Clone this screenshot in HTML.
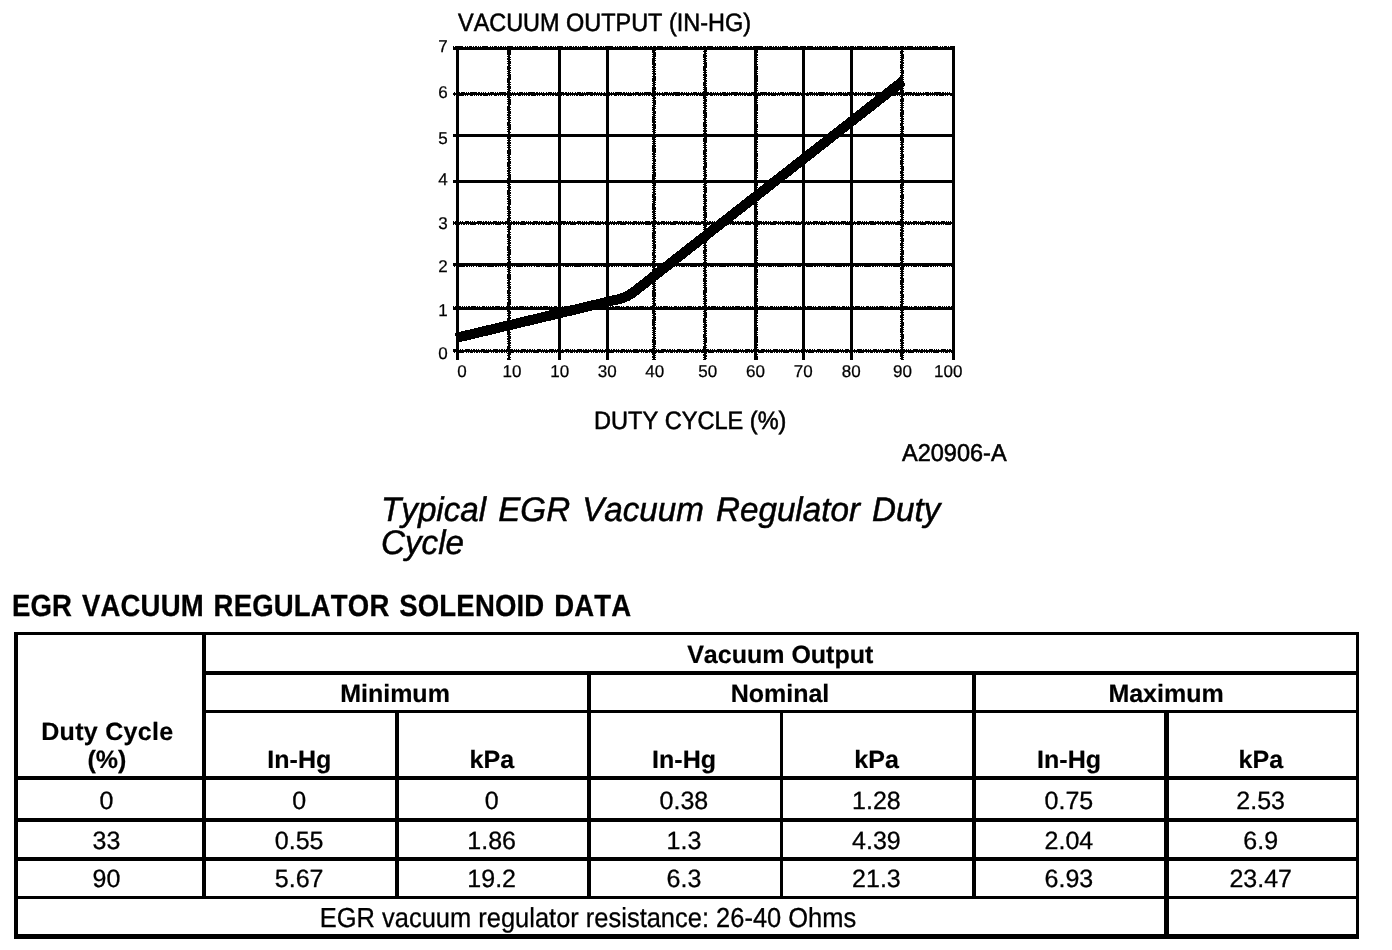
<!DOCTYPE html>
<html>
<head>
<meta charset="utf-8">
<title>EGR Vacuum Regulator Solenoid Data</title>
<style>
html,body{margin:0;padding:0;background:#fff;overflow:hidden;}
body{width:1392px;height:950px;position:relative;overflow:hidden;font-family:"Liberation Sans",sans-serif;color:#000;}
.t{position:absolute;white-space:nowrap;line-height:1;margin:0;padding:0;font-kerning:none;text-rendering:geometricPrecision;}
#pg{position:absolute;left:0;top:0;width:1392px;height:950px;overflow:hidden;will-change:transform;}
.c{text-align:center;}
.tick{font-size:17px;-webkit-text-stroke:0.25px #000;}
.lbl{font-size:23.5px;-webkit-text-stroke:0.55px #000;}
.cap{font-size:34px;font-style:italic;line-height:33px;-webkit-text-stroke:0.5px #000;}
.hd{font-size:30.5px;font-weight:bold;-webkit-text-stroke:0.3px #000;word-spacing:2.2px;letter-spacing:0.2px;}
.b{font-weight:bold;font-size:25px;-webkit-text-stroke:0.2px #000;}
.r{font-size:25px;-webkit-text-stroke:0.3px #000;}
.ln{position:absolute;background:#000;}
</style>
</head>
<body>
<div id="pg">
<svg style="position:absolute;left:0;top:0" width="1392" height="480" viewBox="0 0 1392 480" shape-rendering="crispEdges">
<rect x="456" y="46" width="3" height="314"/>
<rect x="508" y="46" width="2" height="314"/>
<line x1="507.5" y1="46" x2="507.5" y2="360" stroke="#000" stroke-width="1" stroke-dasharray="1 1 1 1 1 2 5 1 1 1 2 1 1 1 1 2 4 1" stroke-dashoffset="3"/>
<line x1="510.5" y1="46" x2="510.5" y2="360" stroke="#000" stroke-width="1" stroke-dasharray="1 1 2 1 1 1 1 1 6 2 1 1 1 1 3 1" stroke-dashoffset="6"/>
<rect x="558" y="46" width="3" height="314"/>
<rect x="606" y="46" width="3" height="314"/>
<rect x="653" y="46" width="2" height="314"/>
<line x1="652.5" y1="46" x2="652.5" y2="360" stroke="#000" stroke-width="1" stroke-dasharray="2 1 1 1 1 1 1 2 1 1 4 1 1 1 1 1 7 1" stroke-dashoffset="9"/>
<line x1="655.5" y1="46" x2="655.5" y2="360" stroke="#000" stroke-width="1" stroke-dasharray="1 1 1 2 3 1 1 1 1 1 1 1 2 1 5 1" stroke-dashoffset="12"/>
<rect x="704" y="46" width="2" height="314"/>
<line x1="703.5" y1="46" x2="703.5" y2="360" stroke="#000" stroke-width="1" stroke-dasharray="1 1 1 1 1 2 5 1 1 1 2 1 1 1 1 2 4 1" stroke-dashoffset="15"/>
<line x1="706.5" y1="46" x2="706.5" y2="360" stroke="#000" stroke-width="1" stroke-dasharray="1 1 2 1 1 1 1 1 6 2 1 1 1 1 3 1" stroke-dashoffset="18"/>
<rect x="754" y="46" width="3" height="314"/>
<line x1="757.5" y1="46" x2="757.5" y2="360" stroke="#000" stroke-width="1" stroke-dasharray="2 1 1 1 1 1 1 2 1 1 4 1 1 1 1 1 7 1" stroke-dashoffset="21"/>
<rect x="802" y="46" width="3" height="314"/>
<rect x="850" y="46" width="3" height="314"/>
<rect x="901" y="46" width="2" height="314"/>
<line x1="900.5" y1="46" x2="900.5" y2="360" stroke="#000" stroke-width="1" stroke-dasharray="1 1 1 2 3 1 1 1 1 1 1 1 2 1 5 1" stroke-dashoffset="24"/>
<line x1="903.5" y1="46" x2="903.5" y2="360" stroke="#000" stroke-width="1" stroke-dasharray="1 1 1 1 1 2 5 1 1 1 2 1 1 1 1 2 4 1" stroke-dashoffset="27"/>
<rect x="952" y="46" width="3" height="314"/>
<rect x="453" y="47" width="502" height="3"/>
<line x1="453" y1="46.5" x2="955" y2="46.5" stroke="#000" stroke-width="1" stroke-dasharray="1 1 2 1 1 1 1 1 6 2 1 1 1 1 3 1" stroke-dashoffset="30"/>
<rect x="453" y="93" width="502" height="2"/>
<line x1="453" y1="92.5" x2="955" y2="92.5" stroke="#000" stroke-width="1" stroke-dasharray="2 1 1 1 1 1 1 2 1 1 4 1 1 1 1 1 7 1" stroke-dashoffset="33"/>
<line x1="453" y1="95.5" x2="955" y2="95.5" stroke="#000" stroke-width="1" stroke-dasharray="1 1 1 2 3 1 1 1 1 1 1 1 2 1 5 1" stroke-dashoffset="36"/>
<rect x="453" y="134" width="502" height="3"/>
<rect x="453" y="180" width="502" height="3"/>
<rect x="453" y="222" width="502" height="2"/>
<line x1="453" y1="221.5" x2="955" y2="221.5" stroke="#000" stroke-width="1" stroke-dasharray="1 1 1 1 1 2 5 1 1 1 2 1 1 1 1 2 4 1" stroke-dashoffset="39"/>
<line x1="453" y1="224.5" x2="955" y2="224.5" stroke="#000" stroke-width="1" stroke-dasharray="1 1 2 1 1 1 1 1 6 2 1 1 1 1 3 1" stroke-dashoffset="42"/>
<rect x="453" y="263" width="502" height="3"/>
<line x1="453" y1="266.5" x2="955" y2="266.5" stroke="#000" stroke-width="1" stroke-dasharray="2 1 1 1 1 1 1 2 1 1 4 1 1 1 1 1 7 1" stroke-dashoffset="45"/>
<rect x="453" y="307" width="502" height="3"/>
<line x1="453" y1="306.5" x2="955" y2="306.5" stroke="#000" stroke-width="1" stroke-dasharray="1 1 1 2 3 1 1 1 1 1 1 1 2 1 5 1" stroke-dashoffset="48"/>
<rect x="453" y="350" width="502" height="2"/>
<line x1="453" y1="349.5" x2="955" y2="349.5" stroke="#000" stroke-width="1" stroke-dasharray="1 1 1 1 1 2 5 1 1 1 2 1 1 1 1 2 4 1" stroke-dashoffset="51"/>
<line x1="453" y1="352.5" x2="955" y2="352.5" stroke="#000" stroke-width="1" stroke-dasharray="1 1 2 1 1 1 1 1 6 2 1 1 1 1 3 1" stroke-dashoffset="54"/>
<clipPath id="cl"><rect x="450" y="40" width="455" height="320"/></clipPath>
<path d="M456,337.9 L619.4,298.96 Q627.2,297.1 633.5,292.15 L903.2,80.9" clip-path="url(#cl)" fill="none" stroke="#000" stroke-width="10" stroke-linejoin="round" stroke-linecap="butt"/>
</svg>
<div class="t lbl" style="left:457.6px;top:11px;font-size:25.2px;transform-origin:0 0;transform:scaleX(0.9305);">VACUUM OUTPUT (IN-HG)</div>
<div class="t tick" style="left:407.6px;top:344.9px;width:40px;text-align:right;">0</div>
<div class="t tick" style="left:407.6px;top:302.4px;width:40px;text-align:right;">1</div>
<div class="t tick" style="left:407.6px;top:258.4px;width:40px;text-align:right;">2</div>
<div class="t tick" style="left:407.6px;top:214.5px;width:40px;text-align:right;">3</div>
<div class="t tick" style="left:407.6px;top:170.6px;width:40px;text-align:right;">4</div>
<div class="t tick" style="left:407.6px;top:130.3px;width:40px;text-align:right;">5</div>
<div class="t tick" style="left:407.6px;top:84.30000000000001px;width:40px;text-align:right;">6</div>
<div class="t tick" style="left:407.6px;top:38.3px;width:40px;text-align:right;">7</div>
<div class="t c tick" style="left:432.0px;top:362.5px;width:60px;">0</div>
<div class="t c tick" style="left:482.0px;top:362.5px;width:60px;">10</div>
<div class="t c tick" style="left:529.8px;top:362.5px;width:60px;">10</div>
<div class="t c tick" style="left:577.2px;top:362.5px;width:60px;">30</div>
<div class="t c tick" style="left:624.8px;top:362.5px;width:60px;">40</div>
<div class="t c tick" style="left:677.8px;top:362.5px;width:60px;">50</div>
<div class="t c tick" style="left:725.5px;top:362.5px;width:60px;">60</div>
<div class="t c tick" style="left:773.2px;top:362.5px;width:60px;">70</div>
<div class="t c tick" style="left:821.2px;top:362.5px;width:60px;">80</div>
<div class="t c tick" style="left:872.5px;top:362.5px;width:60px;">90</div>
<div class="t c tick" style="left:918.2px;top:362.5px;width:60px;">100</div>
<div class="t lbl" style="left:594.4px;top:409px;font-size:25.2px;transform-origin:0 0;transform:scaleX(0.9355);">DUTY CYCLE (%)</div>
<div class="t lbl" style="left:901.8px;top:441.8px;font-size:24.3px;transform-origin:0 0;transform:scaleX(0.968);">A20906-A</div>
<div class="t cap" style="left:381.2px;top:494px;transform-origin:0 0;transform:scaleX(0.977);word-spacing:2.8px;">Typical EGR Vacuum Regulator Duty<br>Cycle</div>
<div class="t hd" style="left:12.3px;top:590.5px;transform-origin:0 0;transform:scaleX(0.902);">EGR VACUUM REGULATOR SOLENOID DATA</div>
<div class="t c b" style="left:630.25px;top:642.5px;width:300px;">Vacuum Output</div>
<div class="t c b" style="left:245.0px;top:681.5px;width:300px;">Minimum</div>
<div class="t c b" style="left:630.0px;top:681.5px;width:300px;">Nominal</div>
<div class="t c b" style="left:1016.05px;top:681.5px;width:300px;">Maximum</div>
<div class="t c b" style="left:-42.7px;top:719.5px;width:300px;letter-spacing:0.3px;">Duty Cycle</div>
<div class="t c b" style="left:-43.0px;top:747.5px;width:300px;">(%)</div>
<div class="t c b" style="left:149.3px;top:747.5px;width:300px;">In-Hg</div>
<div class="t c b" style="left:341.8px;top:747.5px;width:300px;">kPa</div>
<div class="t c b" style="left:534.05px;top:747.5px;width:300px;">In-Hg</div>
<div class="t c b" style="left:726.55px;top:747.5px;width:300px;">kPa</div>
<div class="t c b" style="left:919.05px;top:747.5px;width:300px;">In-Hg</div>
<div class="t c b" style="left:1110.8px;top:747.5px;width:300px;">kPa</div>
<div class="t c r" style="left:-43.5px;top:789.2px;width:300px;">0</div>
<div class="t c r" style="left:149.2px;top:789.2px;width:300px;">0</div>
<div class="t c r" style="left:341.7px;top:789.2px;width:300px;">0</div>
<div class="t c r" style="left:533.95px;top:789.2px;width:300px;">0.38</div>
<div class="t c r" style="left:726.45px;top:789.2px;width:300px;">1.28</div>
<div class="t c r" style="left:918.95px;top:789.2px;width:300px;">0.75</div>
<div class="t c r" style="left:1110.7px;top:789.2px;width:300px;">2.53</div>
<div class="t c r" style="left:-43.5px;top:829.0px;width:300px;">33</div>
<div class="t c r" style="left:149.2px;top:829.0px;width:300px;">0.55</div>
<div class="t c r" style="left:341.7px;top:829.0px;width:300px;">1.86</div>
<div class="t c r" style="left:533.95px;top:829.0px;width:300px;">1.3</div>
<div class="t c r" style="left:726.45px;top:829.0px;width:300px;">4.39</div>
<div class="t c r" style="left:918.95px;top:829.0px;width:300px;">2.04</div>
<div class="t c r" style="left:1110.7px;top:829.0px;width:300px;">6.9</div>
<div class="t c r" style="left:-43.5px;top:867.2px;width:300px;">90</div>
<div class="t c r" style="left:149.2px;top:867.2px;width:300px;">5.67</div>
<div class="t c r" style="left:341.7px;top:867.2px;width:300px;">19.2</div>
<div class="t c r" style="left:533.95px;top:867.2px;width:300px;">6.3</div>
<div class="t c r" style="left:726.45px;top:867.2px;width:300px;">21.3</div>
<div class="t c r" style="left:918.95px;top:867.2px;width:300px;">6.93</div>
<div class="t c r" style="left:1110.7px;top:867.2px;width:300px;">23.47</div>
<div class="t c r" style="left:188.29999999999995px;top:904.3px;width:800px;font-size:27.5px;transform-origin:50% 0;transform:scaleX(0.926);">EGR vacuum regulator resistance: 26-40 Ohms</div>
<div class="ln" style="left:14px;top:632px;width:1345px;height:3px"></div>
<div class="ln" style="left:14px;top:934px;width:1345px;height:5px"></div>
<div class="ln" style="left:14px;top:632px;width:4px;height:307px"></div>
<div class="ln" style="left:1356px;top:632px;width:3px;height:307px"></div>
<div class="ln" style="left:202px;top:671px;width:1157px;height:4px"></div>
<div class="ln" style="left:202px;top:710px;width:1157px;height:3px"></div>
<div class="ln" style="left:14px;top:776px;width:1345px;height:4px"></div>
<div class="ln" style="left:14px;top:818px;width:1345px;height:4px"></div>
<div class="ln" style="left:14px;top:857px;width:1345px;height:4px"></div>
<div class="ln" style="left:14px;top:896px;width:1345px;height:3px"></div>
<div class="ln" style="left:202px;top:632px;width:4px;height:267px"></div>
<div class="ln" style="left:587px;top:671px;width:4px;height:228px"></div>
<div class="ln" style="left:972px;top:671px;width:4px;height:228px"></div>
<div class="ln" style="left:395px;top:710px;width:4px;height:189px"></div>
<div class="ln" style="left:780px;top:710px;width:3px;height:189px"></div>
<div class="ln" style="left:1164px;top:710px;width:5px;height:229px"></div>
</div>
</body>
</html>
